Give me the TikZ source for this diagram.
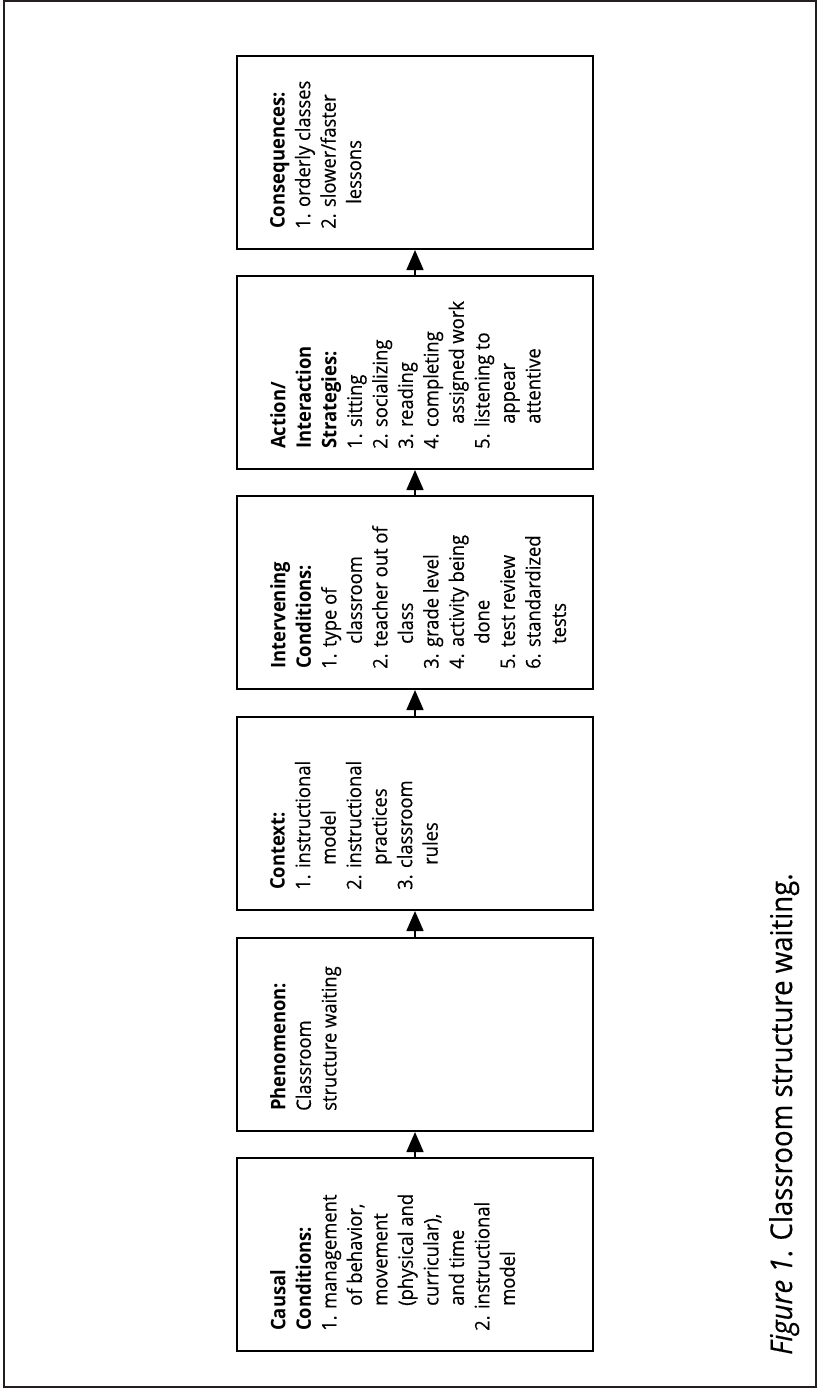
\documentclass[tikz,border=0pt]{standalone}
\usepackage{fontspec}
\setmainfont{Open Sans}[FakeStretch=0.92, UprightFeatures={FakeBold=0.35}, ItalicFeatures={FakeBold=0.35}]
\usetikzlibrary{arrows.meta,calc}
\definecolor{framegray}{HTML}{231F20}
\newcommand{\contline}{\hspace*{25pt}}
\tikzset{
  stagebox/.style={draw=black, line width=2pt, minimum width=356pt, minimum height=193pt, inner sep=0pt, fill=white},
  stagetext/.style={rotate=90, anchor=north west, align=left, inner sep=0pt, font=\fontsize{20}{25.5}\selectfont},
  flow/.style={line width=1.6pt, -{Triangle[length=20pt,width=17pt]}},
  captiontext/.style={rotate=90, anchor=base west, inner sep=0pt, font=\fontsize{30}{36}\selectfont}
}
\begin{document}
\begin{tikzpicture}[x=1pt,y=-1pt]
\useasboundingbox (0,0) rectangle (819,1389);
\draw[framegray, line width=2.2pt] (4,1) rectangle (816,1387);

\node[stagebox] (b1) at (415,1254.5) {};
\node[stagebox] (b2) at (415,1034.5) {};
\node[stagebox] (b3) at (415,813.5) {};
\node[stagebox] (b4) at (415,592.5) {};
\node[stagebox] (b5) at (415,372.5) {};
\node[stagebox] (b6) at (415,152.5) {};

\node[stagetext] (t1) at ($(b1.south west)+(34,-21)$) {\textbf{Causal}\\\textbf{Conditions:}\\1. management\\\contline of behavior,\\\contline movement\\\contline (physical and\\\contline curricular),\\\contline and time\\2. instructional\\\contline model};
\node[stagetext] (t2) at ($(b2.south west)+(34,-21)$) {\textbf{Phenomenon:}\\Classroom\\structure waiting};
\node[stagetext] (t3) at ($(b3.south west)+(34,-21)$) {\textbf{Context:}\\1. instructional\\\contline model\\2. instructional\\\contline practices\\3. classroom\\\contline rules};
\node[stagetext] (t4) at ($(b4.south west)+(34,-21)$) {\textbf{Intervening}\\\textbf{Conditions:}\\1. type of\\\contline classroom\\2. teacher out of\\\contline class\\3. grade level\\4. activity being\\\contline done\\5. test review\\6. standardized\\\contline tests};
\node[stagetext] (t5) at ($(b5.south west)+(34,-21)$) {\textbf{Action/}\\\textbf{Interaction}\\\textbf{Strategies:}\\1. sitting\\2. socializing\\3. reading\\4. completing\\\contline assigned work\\5. listening to\\\contline appear\\\contline attentive};
\node[stagetext] (t6) at ($(b6.south west)+(34,-21)$) {\textbf{Consequences:}\\1. orderly classes\\2. slower/faster\\\contline lessons};

\draw[flow] (b1.north) -- (b2.south);
\draw[flow] (b2.north) -- (b3.south);
\draw[flow] (b3.north) -- (b4.south);
\draw[flow] (b4.north) -- (b5.south);
\draw[flow] (b5.north) -- (b6.south);

\node[captiontext] (cap) at (792,1355) {\textit{Figure 1}. Classroom structure waiting.};
\end{tikzpicture}
\end{document}
